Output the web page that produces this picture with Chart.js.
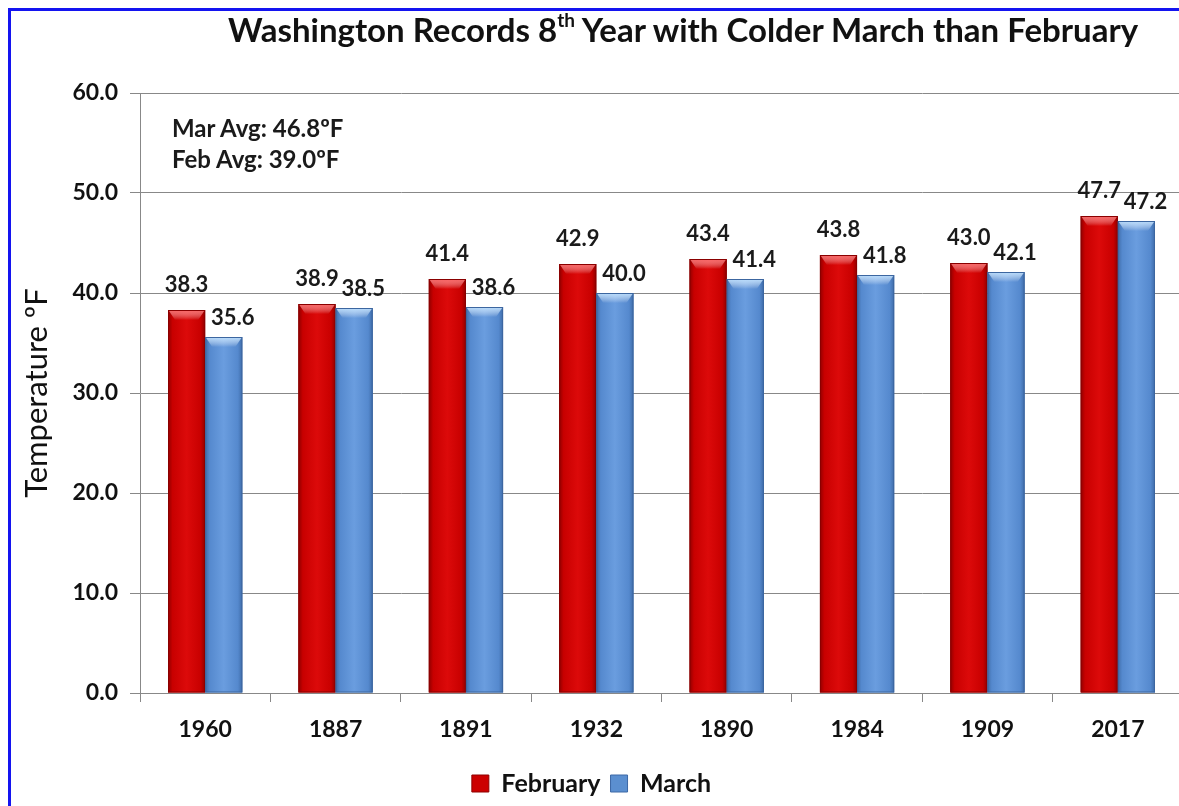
<!DOCTYPE html>
<html>
<head>
<meta charset="utf-8">
<script src="https://cdn.jsdelivr.net/npm/chart.js@4.4.1/dist/chart.umd.min.js"></script>
<style>
  html, body { margin: 0; padding: 0; background: #fff; overflow: hidden; }
  #wrap { position: relative; width: 1179px; height: 806px; overflow: hidden; }
  #frame { position: absolute; left: 8px; top: 8px; width: 1200px; height: 820px;
           border-left: 3px solid #1414f0; border-top: 3px solid #1414f0; }
  #title { position: absolute; left: 228px; top: 9px; white-space: nowrap;
           font-family: Lato, sans-serif; font-weight: bold; font-size: 33px; color: #111; }
  #title sup { font-size: 19px; position: relative; top: -3px; }
  #avg { position: absolute; left: 172px; top: 112px; font-family: Lato, sans-serif;
         font-weight: bold; font-size: 24px; line-height: 31px; color: #1a1a1a; }
  canvas { position: absolute; left: 0; top: 0; }
</style>
</head>
<body>
<div id="wrap">
  <canvas id="chart" width="1185" height="806" style="width:1185px;height:806px"></canvas>
  <div id="frame"></div>
  <div id="title">Washington Records 8<sup>th</sup> Year with Colder March than February</div>
  <div id="avg">Mar Avg: 46.8ºF<br>Feb Avg: 39.0ºF</div>
</div>
<script>
const years = ['1960', '1887', '1891', '1932', '1890', '1984', '1909', '2017'];
const febTemps = [38.3, 38.9, 41.4, 42.9, 43.4, 43.8, 43.0, 47.7];
const marTemps = [35.6, 38.5, 38.6, 40.0, 41.4, 41.8, 42.1, 47.2];

const fontFam = 'Lato, sans-serif';

// paint each bar with a shaded, bevelled look (like the Excel bars)
const barShade = {
  id: 'barShade',
  afterDatasetsDraw(chart) {
    const ctx = chart.ctx;
    chart.data.datasets.forEach((ds, i) => {
      const c = ds.shade;
      chart.getDatasetMeta(i).data.forEach(bar => {
        const l = bar.x - bar.width / 2, w = bar.width;
        const top = bar.y, h = bar.base - bar.y;
        ctx.save();
        const g = ctx.createLinearGradient(l, 0, l + w, 0);
        g.addColorStop(0, c[0]);
        g.addColorStop(0.12, c[1]);
        g.addColorStop(0.5, c[2]);
        g.addColorStop(0.88, c[1]);
        g.addColorStop(1, c[0]);
        ctx.fillStyle = g;
        ctx.fillRect(l, top, w, h);
        ctx.strokeStyle = c[4];
        ctx.lineWidth = 1;
        ctx.strokeRect(l + 0.5, top + 0.5, w - 1, h - 1);
        // top bevel
        const t = ctx.createLinearGradient(0, top, 0, top + 10);
        t.addColorStop(0, c[3]);
        t.addColorStop(1, 'rgba(255,255,255,0)');
        ctx.fillStyle = t;
        ctx.beginPath();
        ctx.moveTo(l + 1, top + 1);
        ctx.lineTo(l + w - 1, top + 1);
        ctx.lineTo(l + w - 7, top + 10);
        ctx.lineTo(l + 7, top + 10);
        ctx.closePath();
        ctx.fill();
        ctx.restore();
      });
    });
  }
};

// value labels above the bars
const valueLabels = {
  id: 'valueLabels',
  afterDatasetsDraw(chart) {
    const ctx = chart.ctx;
    ctx.save();
    ctx.font = 'bold 22px ' + fontFam;
    ctx.fillStyle = '#1a1a1a';
    ctx.textAlign = 'center';
    ctx.textBaseline = 'middle';
    chart.data.datasets.forEach((ds, i) => {
      chart.getDatasetMeta(i).data.forEach((bar, j) => {
        const dx = i === 0 ? 0 : 9;
        const dy = i === 0 ? 25 : 19;
        ctx.fillText(ds.data[j].toFixed(1), bar.x + dx, bar.y - dy);
      });
    });
    ctx.restore();
  }
};

new Chart(document.getElementById('chart'), {
  type: 'bar',
  data: {
    labels: years,
    datasets: [
      { label: 'February', data: febTemps, backgroundColor: '#cc0000', borderColor: '#8f0000', borderWidth: 1,
        shade: ['#900000', '#c80000', '#dc0a0a', 'rgba(255,110,110,0.9)', '#8a0000'] },
      { label: 'March', data: marTemps, backgroundColor: '#5b8fd0', borderColor: '#3c68a6', borderWidth: 1,
        shade: ['#3f6ca8', '#5589ce', '#6a9ddf', 'rgba(190,225,255,0.95)', '#3c66a0'] }
    ]
  },
  options: {
    responsive: false,
    animation: false,
    layout: { padding: { top: 93, left: 0, right: 2, bottom: 0 } },
    categoryPercentage: 0.57,
    barPercentage: 1,
    plugins: {
      legend: {
        position: 'bottom',
        labels: {
          boxWidth: 17, boxHeight: 17, padding: 10,
          color: '#111', font: { family: fontFam, size: 25, weight: 'bold' },
          generateLabels(chart) {
            return chart.data.datasets.map((ds, i) => ({
              text: ds.label, fillStyle: ds.backgroundColor, strokeStyle: ds.borderColor,
              lineWidth: 1, datasetIndex: i, fontColor: '#111'
            }));
          }
        }
      },
      tooltip: { enabled: false }
    },
    scales: {
      x: {
        grid: { display: true, drawOnChartArea: false, drawTicks: true, tickLength: 9, color: '#888' },
        border: { color: '#888', width: 1 },
        ticks: { color: '#111', padding: 14, font: { family: fontFam, size: 23, weight: 'bold' } },
        afterFit(scale) { scale.height = 68; }
      },
      y: {
        min: 0, max: 60,
        grid: { color: '#888', tickLength: 10 },
        border: { color: '#888', width: 1 },
        ticks: { stepSize: 10, color: '#111', padding: 12,
                 font: { family: fontFam, size: 23, weight: 'bold' },
                 callback: v => v.toFixed(1) },
        title: { display: true, text: 'Temperature ºF', color: '#111', padding: { top: 18 },
                 font: { family: fontFam, size: 31, weight: 'normal' } },
        afterFit(scale) { scale.width = 140; }
      }
    }
  },
  plugins: [barShade, valueLabels]
});
</script>
</body>
</html>
